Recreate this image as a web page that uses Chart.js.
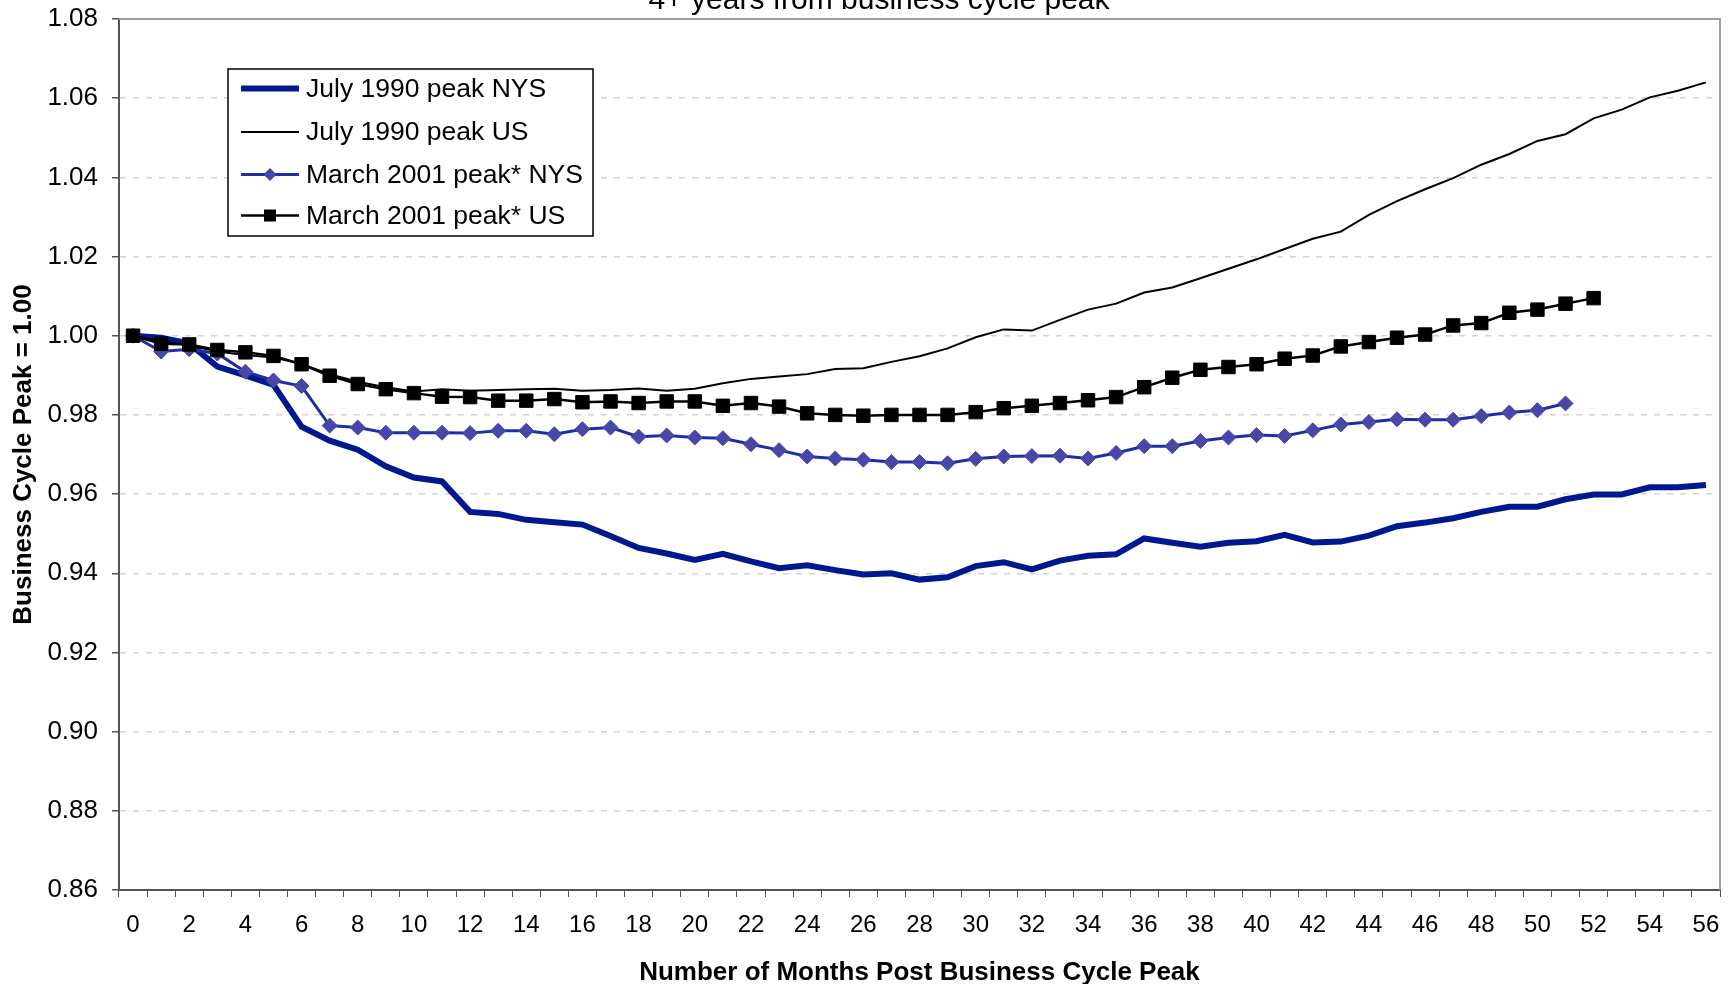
<!DOCTYPE html>
<html>
<head>
<meta charset="utf-8">
<title>Business cycle peak comparison</title>
<script src="https://cdn.jsdelivr.net/npm/chart.js@4/dist/chart.umd.min.js"></script>
<style>
  html, body { margin: 0; padding: 0; background: #fff; }
  #chart { display: block; }
</style>
</head>
<body>
<canvas id="chart" width="1734" height="984"></canvas>
<script>
// Data
const months = ['0','1','2','3','4','5','6','7','8','9','10','11','12','13','14','15','16','17','18','19',
    '20','21','22','23','24','25','26','27','28','29','30','31','32','33','34','35','36','37','38','39',
    '40','41','42','43','44','45','46','47','48','49','50','51','52','53','54','55','56'];

const july1990NYS = [1.000, 0.9995, 0.998, 0.9922, 0.990, 0.9876, 0.977, 0.9735, 0.9712, 0.967,
    0.9642, 0.9632, 0.9555, 0.955, 0.9535, 0.9529, 0.9523, 0.9494, 0.9464, 0.945,
    0.9434, 0.9449, 0.943, 0.9413, 0.942, 0.9408, 0.9397, 0.940, 0.9384, 0.939,
    0.9418, 0.9428, 0.9410, 0.9432, 0.9444, 0.9448, 0.9488, 0.9477, 0.9467, 0.9477,
    0.9481, 0.9497, 0.9478, 0.948, 0.9495, 0.9519, 0.9528, 0.9539, 0.9555, 0.9568,
    0.9568, 0.9587, 0.9599, 0.9599, 0.9617, 0.9617, 0.9623];

const july1990US = [1.000, 0.9987, 0.9975, 0.996, 0.9951, 0.9945, 0.9929, 0.9903, 0.9884, 0.987,
    0.9859, 0.9865, 0.9861, 0.9863, 0.9865, 0.9866, 0.9861, 0.9863, 0.9867, 0.9861,
    0.9866, 0.988, 0.9891, 0.9897, 0.9903, 0.9916, 0.9918, 0.9934, 0.9948, 0.9968,
    0.9996, 1.0016, 1.0013, 1.0040, 1.0066, 1.0081, 1.0109, 1.0122, 1.0145, 1.0169,
    1.0193, 1.0219, 1.0245, 1.0263, 1.0305, 1.0340, 1.0370, 1.0398, 1.0432, 1.0459,
    1.0492, 1.0509, 1.0549, 1.0571, 1.0602, 1.0619, 1.0640];

const march2001NYS = [1.000, 0.996, 0.9966, 0.9955, 0.9909, 0.9887, 0.9873, 0.9773, 0.9768, 0.9755,
    0.9755, 0.9755, 0.9754, 0.976, 0.976, 0.9751, 0.9764, 0.9768, 0.9745, 0.9748,
    0.9743, 0.9741, 0.9726, 0.9711, 0.9695, 0.969, 0.9687, 0.9681, 0.9681, 0.9678,
    0.9689, 0.9695, 0.9696, 0.9697, 0.969, 0.9704, 0.9721, 0.9721, 0.9734, 0.9743,
    0.9749, 0.9747, 0.9761, 0.9776, 0.9782, 0.9789, 0.9788, 0.9788, 0.9797, 0.9806,
    0.9812, 0.9829];

const march2001US = [1.000, 0.998, 0.9978, 0.9964, 0.9958, 0.9949, 0.9928, 0.9899, 0.9878, 0.9865,
    0.9855, 0.9846, 0.9845, 0.9836, 0.9836, 0.984, 0.9832, 0.9834, 0.983, 0.9834,
    0.9834, 0.9823, 0.983, 0.9821, 0.9804, 0.98, 0.9798, 0.98, 0.98, 0.98,
    0.9807, 0.9817, 0.9823, 0.983, 0.9837, 0.9845, 0.987, 0.9894, 0.9914, 0.9921,
    0.9928, 0.9942, 0.995, 0.9973, 0.9984, 0.9995, 1.0003, 1.0026, 1.0032, 1.0058,
    1.0066, 1.0081, 1.0095];

const seriesNames = ['July 1990 peak NYS', 'July 1990 peak US', 'March 2001 peak* NYS', 'March 2001 peak* US'];
const chartTitle = '4+ years from business cycle peak';
const yAxisTitle = 'Business Cycle Peak = 1.00';
const xAxisTitle = 'Number of Months Post Business Cycle Peak';

const FONT = "'Liberation Sans', Arial, sans-serif";

// Marker helpers (used for the legend)
function drawSquare(ctx, x, y, half, color) {
    ctx.fillStyle = color;
    ctx.fillRect(x - half, y - half, half * 2, half * 2);
}

function drawDiamond(ctx, x, y, r, color) {
    ctx.fillStyle = color;
    ctx.beginPath();
    ctx.moveTo(x, y - r);
    ctx.lineTo(x + r, y);
    ctx.lineTo(x, y + r);
    ctx.lineTo(x - r, y);
    ctx.closePath();
    ctx.fill();
}

// Plot area border (top + right) and partly hidden title
const frameAndTitle = {
    id: 'frameAndTitle',
    beforeDatasetsDraw(chart) {
        const { ctx, chartArea: a } = chart;
        ctx.save();
        ctx.strokeStyle = '#a0a0a0';
        ctx.lineWidth = 2;
        ctx.beginPath();
        ctx.moveTo(a.left, a.top);
        ctx.lineTo(a.right, a.top);
        ctx.lineTo(a.right, a.bottom);
        ctx.stroke();
        ctx.restore();
    },
    afterDraw(chart) {
        const { ctx } = chart;
        ctx.save();
        ctx.fillStyle = '#000';
        ctx.font = '30px ' + FONT;
        ctx.textAlign = 'center';
        ctx.textBaseline = 'alphabetic';
        ctx.fillText(chartTitle, 879, 9);
        ctx.restore();
    }
};

// Boxed legend inside the plot
const boxLegend = {
    id: 'boxLegend',
    afterDraw(chart) {
        const { ctx } = chart;
        const box = { x: 228, y: 69, w: 365, h: 167 };
        const rows = [88.5, 132, 174.5, 215.5];
        ctx.save();
        ctx.fillStyle = '#fff';
        ctx.fillRect(box.x, box.y, box.w, box.h);
        ctx.strokeStyle = '#000';
        ctx.lineWidth = 1.5;
        ctx.strokeRect(box.x, box.y, box.w, box.h);

        chart.data.datasets.forEach((ds, i) => {
            const y = rows[i];
            ctx.strokeStyle = ds.borderColor;
            ctx.lineWidth = ds.borderWidth;
            ctx.beginPath();
            ctx.moveTo(241, y);
            ctx.lineTo(299, y);
            ctx.stroke();
            if (ds.pointStyle === 'rect') drawSquare(ctx, 270, y, 6, ds.pointBackgroundColor);
            if (ds.pointStyle === 'rectRot') drawDiamond(ctx, 270, y, 6.5, ds.pointBackgroundColor);
            ctx.fillStyle = '#000';
            ctx.font = '26.5px ' + FONT;
            ctx.textAlign = 'left';
            ctx.textBaseline = 'middle';
            ctx.fillText(ds.label, 306, y + 1);
        });
        ctx.restore();
    }
};

new Chart(document.getElementById('chart'), {
    type: 'line',
    data: {
        labels: months,
        datasets: [
            {
                label: seriesNames[0],
                data: july1990NYS,
                borderColor: '#00188f',
                borderWidth: 6,
                pointRadius: 0,
                order: 4
            },
            {
                label: seriesNames[1],
                data: july1990US,
                borderColor: '#000000',
                borderWidth: 2,
                pointRadius: 0,
                order: 3
            },
            {
                label: seriesNames[2],
                data: march2001NYS,
                borderColor: '#1f2ea6',
                borderWidth: 3,
                pointStyle: 'rectRot',
                pointRadius: 7.5,
                pointBackgroundColor: '#4747a8',
                pointBorderColor: '#4747a8',
                pointBorderWidth: 1,
                order: 2
            },
            {
                label: seriesNames[3],
                data: march2001US,
                borderColor: '#000000',
                borderWidth: 2.5,
                pointStyle: 'rect',
                pointRadius: 9.5,
                pointBackgroundColor: '#000000',
                pointBorderColor: '#000000',
                pointBorderWidth: 1,
                order: 1
            }
        ]
    },
    options: {
        responsive: false,
        animation: false,
        devicePixelRatio: 1,
        layout: { padding: { top: 19, right: 14, left: 0, bottom: 0 } },
        elements: { line: { tension: 0 } },
        plugins: {
            legend: { display: false },
            tooltip: { enabled: false },
            title: { display: false }
        },
        scales: {
            x: {
                type: 'category',
                offset: true,
                afterFit: (scale) => { scale.height = 94; },
                grid: {
                    offset: true,
                    drawOnChartArea: false,
                    drawTicks: true,
                    tickLength: 7,
                    tickColor: '#555',
                    tickWidth: 1
                },
                border: { color: '#555', width: 2 },
                ticks: {
                    autoSkip: false,
                    maxRotation: 0,
                    padding: 14,
                    color: '#000',
                    font: { family: FONT, size: 24 },
                    callback: function (value, index) {
                        return index % 2 === 0 ? this.getLabelForValue(value) : '';
                    }
                },
                title: {
                    display: true,
                    text: xAxisTitle,
                    color: '#000',
                    font: { family: FONT, size: 26, weight: 'bold', lineHeight: 0.88 },
                    padding: { top: 0, bottom: 0 }
                }
            },
            y: {
                min: 0.86,
                max: 1.08,
                afterFit: (scale) => {
                    scale.width = 119;
                    scale.paddingTop = 0;
                    scale.paddingBottom = 0;
                },
                grid: {
                    color: '#d4d4d4',
                    lineWidth: 1.5,
                    drawTicks: true,
                    tickLength: 7,
                    tickColor: '#555',
                    tickWidth: 1.5
                },
                border: { color: '#555', width: 2, dash: [6, 7] },
                ticks: {
                    stepSize: 0.02,
                    padding: 14,
                    color: '#000',
                    font: { family: FONT, size: 26 },
                    callback: (value) => Number(value).toFixed(2)
                },
                title: {
                    display: true,
                    text: yAxisTitle,
                    color: '#000',
                    font: { family: FONT, size: 26, weight: 'bold' },
                    padding: { top: 8, bottom: 0 }
                }
            }
        }
    },
    plugins: [frameAndTitle, boxLegend]
});
</script>
</body>
</html>
